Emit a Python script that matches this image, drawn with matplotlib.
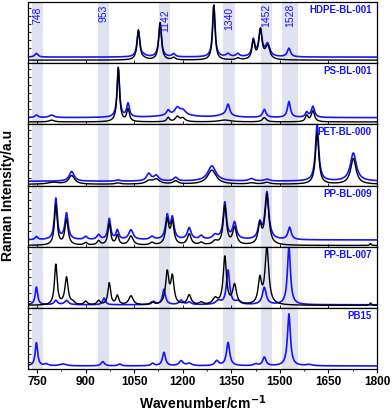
import numpy as np
import matplotlib
matplotlib.use('Agg')
import matplotlib.pyplot as plt
from matplotlib.ticker import MultipleLocator

plt.rcParams['font.family'] = ['Liberation Sans', 'DejaVu Sans']

# shaded bands (lo, hi) and their labels
band_lo = [734, 939, 1128, 1324, 1441, 1507]
band_hi = [768, 973, 1162, 1361, 1477, 1555]
band_labels = ['748', '953', '1142', '1340', '1452', '1528']

sample_names = ['HDPE-BL-001', 'PS-BL-001', 'PET-BL-000', 'PP-BL-009', 'PP-BL-007', 'PB15']

# baselines of each trace (fraction of panel height); None = trace absent
black_base = [0.05, 0.04, 0.02, 0.02, 0.04, None]
blue_base = [0.10, 0.11, 0.07, 0.11, 0.05, 0.05]

# peaks: (position cm-1, height, half width)
hdpe_black = [(1063, 0.49, 5), (1080, 0.02, 9), (1130, 0.61, 5), (1172, 0.04, 6), (1296, 0.90, 4.5),
              (1370, 0.03, 6), (1418, 0.30, 5), (1440, 0.48, 6), (1462, 0.22, 8)]
hdpe_blue = [(748, 0.06, 6), (1063, 0.42, 5), (1080, 0.02, 9), (1130, 0.55, 5), (1172, 0.05, 6),
             (1296, 0.84, 4.5), (1340, 0.05, 7), (1370, 0.05, 6), (1418, 0.27, 5), (1440, 0.44, 6),
             (1462, 0.20, 8), (1528, 0.14, 6)]

ps_black = [(795, 0.03, 9), (1001, 0.89, 4.5), (1031, 0.20, 5), (1155, 0.07, 5), (1183, 0.08, 7),
            (1200, 0.06, 9), (1330, 0.03, 22), (1452, 0.07, 7), (1583, 0.10, 5), (1602, 0.18, 6)]
ps_blue = [(748, 0.04, 6), (795, 0.04, 9), (1001, 0.78, 4.5), (1031, 0.22, 5), (1155, 0.08, 6),
           (1183, 0.11, 9), (1200, 0.08, 11), (1180, 0.04, 60), (1330, 0.04, 25), (1340, 0.18, 6),
           (1452, 0.13, 6), (1528, 0.26, 5.5), (1583, 0.08, 5), (1602, 0.18, 6)]

pet_black = [(800, 0.03, 20), (857, 0.14, 11), (1000, 0.02, 9), (1095, 0.05, 11), (1118, 0.08, 13),
             (1178, 0.05, 9), (1290, 0.23, 16), (1412, 0.02, 11), (1460, 0.03, 11),
             (1615, 0.85, 6), (1727, 0.42, 10)]
pet_blue = [(857, 0.16, 9), (1000, 0.02, 7), (1095, 0.12, 8), (1118, 0.09, 9), (1178, 0.06, 7),
            (1290, 0.25, 15), (1412, 0.04, 9), (1460, 0.03, 9), (1615, 0.92, 6), (1727, 0.46, 11)]

pp9_black = [(808, 0.66, 5), (841, 0.42, 6), (900, 0.04, 6), (940, 0.07, 6), (973, 0.35, 5),
             (998, 0.16, 5), (1040, 0.15, 8), (1105, 0.04, 7), (1152, 0.40, 6), (1168, 0.36, 6),
             (1220, 0.18, 7), (1257, 0.04, 7), (1300, 0.06, 9), (1330, 0.63, 6), (1360, 0.28, 7),
             (1438, 0.32, 6), (1460, 0.82, 7), (1780, 0.03, 2.5)]
pp9_blue = [(748, 0.05, 5), (808, 0.67, 5), (841, 0.43, 6), (900, 0.05, 6), (940, 0.08, 6),
            (973, 0.34, 5), (998, 0.15, 5), (1040, 0.16, 8), (1105, 0.05, 7), (1152, 0.38, 6),
            (1168, 0.34, 6), (1220, 0.19, 7), (1257, 0.06, 7), (1300, 0.07, 9), (1330, 0.60, 6),
            (1360, 0.27, 7), (1438, 0.25, 6), (1460, 0.77, 7), (1530, 0.20, 6)]

pp7_black = [(808, 0.66, 5), (841, 0.45, 6), (860, 0.04, 6), (900, 0.06, 6), (940, 0.07, 6),
             (973, 0.36, 5), (998, 0.15, 5), (1040, 0.15, 8), (1105, 0.04, 7), (1152, 0.52, 6),
             (1168, 0.44, 6), (1220, 0.16, 7), (1257, 0.04, 7), (1300, 0.10, 9), (1330, 0.78, 6),
             (1360, 0.32, 7), (1438, 0.40, 6), (1460, 0.93, 7), (1780, 0.04, 2.5)]
pp7_blue = [(748, 0.29, 4.5), (808, 0.07, 6), (841, 0.07, 7), (957, 0.11, 5), (1110, 0.05, 6),
            (1142, 0.25, 5.5), (1195, 0.07, 7), (1220, 0.04, 7), (1310, 0.06, 9), (1340, 0.56, 6),
            (1370, 0.05, 9), (1452, 0.28, 7), (1528, 0.96, 5.5)]

pb15_blue = [(748, 0.38, 4.5), (778, 0.03, 7), (830, 0.03, 13), (953, 0.07, 6), (1005, 0.03, 6),
             (1107, 0.04, 6), (1142, 0.22, 5.5), (1195, 0.08, 7), (1220, 0.04, 9), (1305, 0.08, 7),
             (1340, 0.38, 6), (1425, 0.03, 7), (1452, 0.14, 6), (1528, 0.85, 5.5), (1590, 0.02, 11)]

black_peaks = [hdpe_black, ps_black, pet_black, pp9_black, pp7_black, None]
blue_peaks = [hdpe_blue, ps_blue, pet_blue, pp9_blue, pp7_blue, pb15_blue]

wn = np.arange(722, 1801, 0.5)


def spectrum(base, peaks):
    y = np.full_like(wn, base)
    for c, h, w in peaks:
        y = y + h * w**2 / ((wn - c)**2 + w**2)
    return y


band_col = '#e0e2f0'
blue = '#1414ff'

fig, axes = plt.subplots(6, 1, sharex=True, figsize=(3.92, 4.13), dpi=100)
fig.subplots_adjust(left=0.0714, right=0.9617, top=0.995, bottom=0.1065, hspace=0)

for i, ax in enumerate(axes):
    for lo, hi in zip(band_lo, band_hi):
        ax.axvspan(lo, hi, color=band_col, lw=0, zorder=0)
    ax.plot(wn, spectrum(blue_base[i], blue_peaks[i]), color=blue, lw=1.2, zorder=2)
    if black_peaks[i] is not None:
        ax.plot(wn, spectrum(black_base[i], black_peaks[i]), color='k', lw=1.0, zorder=3)
    ax.set_xlim(722, 1800)
    ax.set_ylim(0, 1)
    ax.set_yticks(np.arange(0.12, 1.0, 0.13))
    ax.tick_params(axis='y', direction='in', length=2, labelleft=False, width=0.6)
    ax.text(0.985, 0.95, sample_names[i], transform=ax.transAxes, ha='right', va='top',
            color=blue, fontsize=7, fontweight='bold')
    for sp in ax.spines.values():
        sp.set_linewidth(0.9)
    if i < 5:
        ax.set_xticks([900, 1100, 1300, 1500, 1700])
        ax.tick_params(axis='x', direction='in', length=2, labelbottom=False, width=0.6)

# band labels in the top panel
label_y = [0.78, 0.81, 0.69, 0.74, 0.79, 0.79]
for lo, hi, lab, yy in zip(band_lo, band_hi, band_labels, label_y):
    axes[0].text((lo + hi) / 2.0, yy, lab, rotation=90, ha='center', va='center',
                 color=blue, fontsize=7.5)

axb = axes[-1]
axb.set_xticks(np.arange(750, 1801, 150))
axb.xaxis.set_minor_locator(MultipleLocator(75))
axb.tick_params(axis='x', which='major', direction='out', length=3, width=0.8, pad=2,
                labelsize=8.5)
axb.tick_params(axis='x', which='minor', direction='out', length=1.5, width=0.6)
for lab in axb.get_xticklabels():
    lab.set_fontweight('bold')

fig.text(0.0204, 0.5266, 'Raman Intensity/a.u', rotation=90, ha='center', va='center',
         fontsize=10, fontweight='bold')
fig.text(0.516, 0.01, r'Wavenumber/cm$^{\mathbf{-1}}$', ha='center', va='baseline',
         fontsize=10, fontweight='bold')

plt.savefig('out.png', dpi=100)
plt.close()
